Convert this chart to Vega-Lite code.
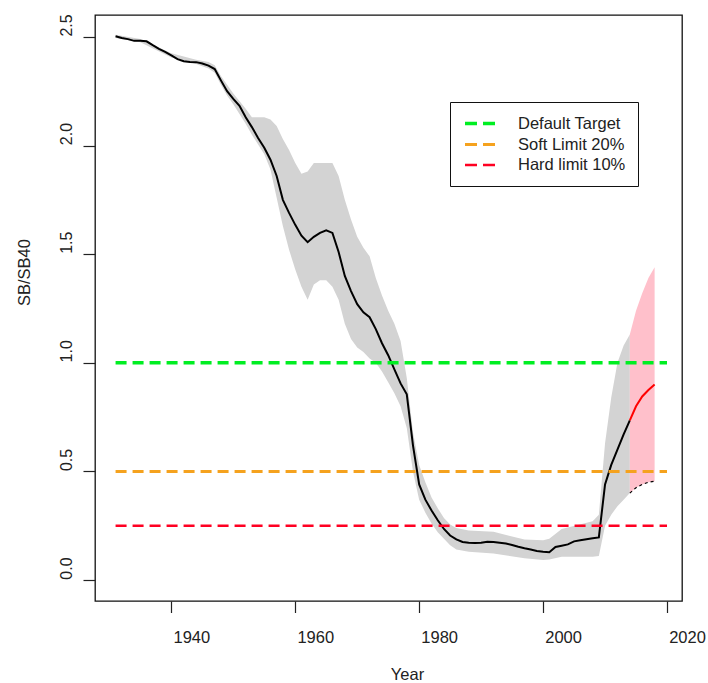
{
  "$schema": "https://vega.github.io/schema/vega-lite/v6.json",
  "width": 587,
  "height": 586,
  "autosize": {"type": "none"},
  "padding": {"left": 95, "top": 15, "right": 26, "bottom": 82},
  "background": "white",
  "config": {
    "font": "Liberation Sans",
    "view": {"stroke": "#111111", "strokeWidth": 1.3, "fill": "white"},
    "axis": {"grid": false, "domain": false, "tickColor": "#222222", "tickWidth": 1.2, "labelColor": "#222222", "titleColor": "#222222", "labelFont": "Liberation Sans", "titleFont": "Liberation Sans", "titleFontWeight": "normal"}
  },
  "datasets": {
    "band": [
      {"year": 1931, "lo": 2.495, "hi": 2.51},
      {"year": 1935, "lo": 2.475, "hi": 2.49},
      {"year": 1940, "lo": 2.405, "hi": 2.425},
      {"year": 1944, "lo": 2.375, "hi": 2.395},
      {"year": 1946, "lo": 2.355, "hi": 2.385},
      {"year": 1947, "lo": 2.335, "hi": 2.37},
      {"year": 1948, "lo": 2.28, "hi": 2.32},
      {"year": 1949, "lo": 2.23, "hi": 2.28},
      {"year": 1950, "lo": 2.19, "hi": 2.24},
      {"year": 1952, "lo": 2.1, "hi": 2.17},
      {"year": 1953, "lo": 2.05, "hi": 2.13},
      {"year": 1955, "lo": 1.96, "hi": 2.13},
      {"year": 1956, "lo": 1.89, "hi": 2.12},
      {"year": 1957, "lo": 1.76, "hi": 2.09},
      {"year": 1958, "lo": 1.63, "hi": 2.03},
      {"year": 1959, "lo": 1.52, "hi": 1.98},
      {"year": 1960, "lo": 1.43, "hi": 1.92},
      {"year": 1961, "lo": 1.35, "hi": 1.87},
      {"year": 1962, "lo": 1.29, "hi": 1.88},
      {"year": 1963, "lo": 1.36, "hi": 1.92},
      {"year": 1964, "lo": 1.38, "hi": 1.92},
      {"year": 1965, "lo": 1.38, "hi": 1.92},
      {"year": 1966, "lo": 1.35, "hi": 1.92},
      {"year": 1967, "lo": 1.29, "hi": 1.86},
      {"year": 1968, "lo": 1.18, "hi": 1.75},
      {"year": 1969, "lo": 1.11, "hi": 1.66},
      {"year": 1970, "lo": 1.07, "hi": 1.58},
      {"year": 1971, "lo": 1.05, "hi": 1.53},
      {"year": 1972, "lo": 1.02, "hi": 1.49},
      {"year": 1973, "lo": 1.0, "hi": 1.39},
      {"year": 1974, "lo": 0.96, "hi": 1.31},
      {"year": 1975, "lo": 0.91, "hi": 1.24},
      {"year": 1976, "lo": 0.86, "hi": 1.18},
      {"year": 1977, "lo": 0.8, "hi": 1.1},
      {"year": 1978, "lo": 0.7, "hi": 0.93},
      {"year": 1979, "lo": 0.5, "hi": 0.68},
      {"year": 1980, "lo": 0.37, "hi": 0.53},
      {"year": 1981, "lo": 0.31, "hi": 0.45},
      {"year": 1982, "lo": 0.26, "hi": 0.38},
      {"year": 1983, "lo": 0.22, "hi": 0.33},
      {"year": 1984, "lo": 0.19, "hi": 0.285},
      {"year": 1985, "lo": 0.16, "hi": 0.255},
      {"year": 1986, "lo": 0.14, "hi": 0.24},
      {"year": 1988, "lo": 0.13, "hi": 0.228},
      {"year": 1992, "lo": 0.122, "hi": 0.222},
      {"year": 1997, "lo": 0.1, "hi": 0.186},
      {"year": 2000, "lo": 0.092, "hi": 0.183},
      {"year": 2001, "lo": 0.095, "hi": 0.19},
      {"year": 2003, "lo": 0.107, "hi": 0.235},
      {"year": 2008, "lo": 0.107, "hi": 0.27},
      {"year": 2009, "lo": 0.11, "hi": 0.3},
      {"year": 2010, "lo": 0.25, "hi": 0.63},
      {"year": 2011, "lo": 0.3, "hi": 0.84},
      {"year": 2012, "lo": 0.34, "hi": 1.0},
      {"year": 2013, "lo": 0.37, "hi": 1.08},
      {"year": 2014, "lo": 0.4, "hi": 1.13}
    ],
    "hist": [
      {"year": 1931, "sb": 2.503}, {"year": 1932, "sb": 2.495}, {"year": 1933, "sb": 2.49},
      {"year": 1934, "sb": 2.482}, {"year": 1935, "sb": 2.482}, {"year": 1936, "sb": 2.48},
      {"year": 1937, "sb": 2.462}, {"year": 1938, "sb": 2.445}, {"year": 1939, "sb": 2.431},
      {"year": 1940, "sb": 2.415}, {"year": 1941, "sb": 2.398}, {"year": 1942, "sb": 2.388},
      {"year": 1943, "sb": 2.385}, {"year": 1944, "sb": 2.384}, {"year": 1945, "sb": 2.378},
      {"year": 1946, "sb": 2.368}, {"year": 1947, "sb": 2.352}, {"year": 1948, "sb": 2.3},
      {"year": 1949, "sb": 2.25}, {"year": 1950, "sb": 2.215}, {"year": 1951, "sb": 2.183},
      {"year": 1952, "sb": 2.13}, {"year": 1953, "sb": 2.085}, {"year": 1954, "sb": 2.035},
      {"year": 1955, "sb": 1.99}, {"year": 1956, "sb": 1.935}, {"year": 1957, "sb": 1.86},
      {"year": 1958, "sb": 1.75}, {"year": 1959, "sb": 1.69}, {"year": 1960, "sb": 1.635},
      {"year": 1961, "sb": 1.585}, {"year": 1962, "sb": 1.555}, {"year": 1963, "sb": 1.58},
      {"year": 1964, "sb": 1.598}, {"year": 1965, "sb": 1.61}, {"year": 1966, "sb": 1.598},
      {"year": 1967, "sb": 1.51}, {"year": 1968, "sb": 1.4}, {"year": 1969, "sb": 1.33},
      {"year": 1970, "sb": 1.27}, {"year": 1971, "sb": 1.232}, {"year": 1972, "sb": 1.21},
      {"year": 1973, "sb": 1.155}, {"year": 1974, "sb": 1.09}, {"year": 1975, "sb": 1.035},
      {"year": 1976, "sb": 0.97}, {"year": 1977, "sb": 0.905}, {"year": 1978, "sb": 0.855},
      {"year": 1979, "sb": 0.62}, {"year": 1980, "sb": 0.44}, {"year": 1981, "sb": 0.37},
      {"year": 1982, "sb": 0.32}, {"year": 1983, "sb": 0.275}, {"year": 1984, "sb": 0.235},
      {"year": 1985, "sb": 0.205}, {"year": 1986, "sb": 0.187}, {"year": 1987, "sb": 0.175},
      {"year": 1988, "sb": 0.172}, {"year": 1989, "sb": 0.17}, {"year": 1990, "sb": 0.172},
      {"year": 1991, "sb": 0.176}, {"year": 1992, "sb": 0.175}, {"year": 1993, "sb": 0.172},
      {"year": 1994, "sb": 0.168}, {"year": 1995, "sb": 0.161}, {"year": 1996, "sb": 0.153},
      {"year": 1997, "sb": 0.146}, {"year": 1998, "sb": 0.14}, {"year": 1999, "sb": 0.134},
      {"year": 2000, "sb": 0.13}, {"year": 2001, "sb": 0.128}, {"year": 2002, "sb": 0.152},
      {"year": 2003, "sb": 0.158}, {"year": 2004, "sb": 0.164}, {"year": 2005, "sb": 0.178},
      {"year": 2006, "sb": 0.183}, {"year": 2007, "sb": 0.188}, {"year": 2008, "sb": 0.192},
      {"year": 2009, "sb": 0.196}, {"year": 2010, "sb": 0.44}, {"year": 2011, "sb": 0.53},
      {"year": 2012, "sb": 0.6}, {"year": 2013, "sb": 0.67}, {"year": 2014, "sb": 0.735}
    ],
    "proj": [
      {"year": 2014, "sb": 0.735, "lo": 0.4, "hi": 1.13},
      {"year": 2015, "sb": 0.8, "lo": 0.425, "hi": 1.24},
      {"year": 2016, "sb": 0.845, "lo": 0.44, "hi": 1.32},
      {"year": 2017, "sb": 0.875, "lo": 0.45, "hi": 1.39},
      {"year": 2018, "sb": 0.9, "lo": 0.455, "hi": 1.44}
    ],
    "refs": [
      {"name": "Default Target", "level": 1.0},
      {"name": "Soft Limit 20%", "level": 0.5},
      {"name": "Hard limit 10%", "level": 0.25}
    ]
  },
  "layer": [
    {
      "data": {"name": "band"},
      "mark": {"type": "area", "color": "#d3d3d3", "opacity": 1},
      "encoding": {
        "x": {
          "field": "year", "type": "quantitative",
          "scale": {"domain": [1927.68, 2022.42], "nice": false, "zero": false},
          "axis": {
            "title": "Year", "values": [1940, 1960, 1980, 2000, 2020], "format": "d",
            "tickSize": 11.5, "labelPadding": 29.5, "labelBaseline": "alphabetic", "labelOffset": 20,
            "labelFontSize": 16.5, "labelFlush": false, "labelOverlap": false,
            "titleFontSize": 16.5, "titleX": 312, "titleY": 78, "titleBaseline": "alphabetic", "titleAlign": "center"
          }
        },
        "y": {
          "field": "lo", "type": "quantitative",
          "scale": {"domain": [-0.0966, 2.601], "nice": false, "zero": false},
          "axis": {
            "title": "SB/SB40", "values": [0, 0.5, 1, 1.5, 2, 2.5], "format": ".1f",
            "tickSize": 12, "labelPadding": 11.5, "labelAngle": 270, "labelAlign": "center",
            "labelBaseline": "alphabetic", "labelOffset": -12, "labelFontSize": 16, "labelFlush": false, "labelOverlap": false,
            "titleFontSize": 16.5, "titleAngle": 270, "titleX": -65.7, "titleY": 257, "titleBaseline": "alphabetic", "titleAlign": "center"
          }
        },
        "y2": {"field": "hi"}
      }
    },
    {
      "data": {"name": "proj"},
      "mark": {"type": "area", "color": "#ffc0cb", "opacity": 1},
      "encoding": {
        "x": {"field": "year", "type": "quantitative"},
        "y": {"field": "lo", "type": "quantitative"},
        "y2": {"field": "hi"}
      }
    },
    {
      "data": {"name": "hist"},
      "mark": {"type": "line", "color": "#000000", "strokeWidth": 2},
      "encoding": {
        "x": {"field": "year", "type": "quantitative"},
        "y": {"field": "sb", "type": "quantitative"}
      }
    },
    {
      "data": {"name": "proj"},
      "mark": {"type": "line", "color": "#ff0000", "strokeWidth": 2},
      "encoding": {
        "x": {"field": "year", "type": "quantitative"},
        "y": {"field": "sb", "type": "quantitative"}
      }
    },
    {
      "data": {"name": "proj"},
      "mark": {"type": "line", "color": "#000000", "strokeWidth": 1.2, "strokeDash": [3, 3]},
      "encoding": {
        "x": {"field": "year", "type": "quantitative"},
        "y": {"field": "lo", "type": "quantitative"}
      }
    },
    {
      "data": {"name": "refs"},
      "mark": {"type": "rule", "strokeDash": [11, 6]},
      "encoding": {
        "x": {"datum": 1931, "type": "quantitative"},
        "x2": {"datum": 2020},
        "y": {"field": "level", "type": "quantitative"},
        "strokeWidth": {
          "field": "name", "type": "nominal",
          "scale": {"domain": ["Default Target", "Soft Limit 20%", "Hard limit 10%"], "range": [3.5, 2.6, 3.5]},
          "legend": null
        },
        "color": {
          "field": "name", "type": "nominal",
          "scale": {"domain": ["Default Target", "Soft Limit 20%", "Hard limit 10%"], "range": ["#00ee22", "#f5a21e", "#ff0022"]},
          "legend": {
            "title": null, "orient": "none", "legendX": 355, "legendY": 87,
            "strokeColor": "#111111", "fillColor": "white", "padding": 12, "symbolOffset": 8.5,
            "symbolType": "M-2,0H2", "symbolSize": 225, "symbolStrokeWidth": 3, "symbolDash": [12, 6],
            "labelFontSize": 16.5, "labelColor": "#222222", "labelOffset": 28.5, "rowPadding": 3
          }
        }
      }
    }
  ]
}
